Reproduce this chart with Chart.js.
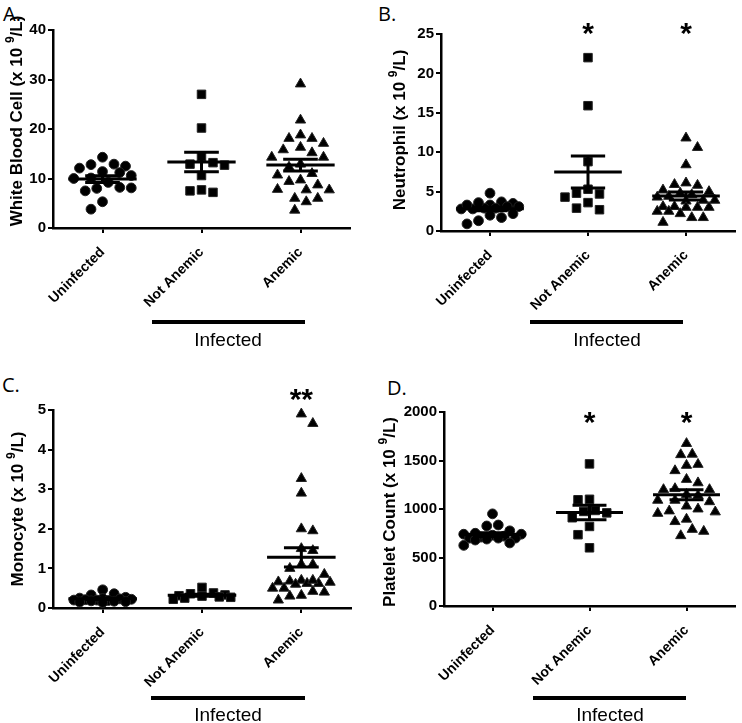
<!DOCTYPE html>
<html>
<head>
<meta charset="utf-8">
<script src="https://cdn.jsdelivr.net/npm/chart.js@4.4.1/dist/chart.umd.min.js"></script>
<style>
    body { margin: 0; background: #fff; width: 742px; height: 723px; position: relative; overflow: hidden;
           font-family: "Liberation Sans", Arial, sans-serif; }
    .panel { position: absolute; }
    .letter { position: absolute; font-family: "Open Sans", sans-serif; font-size: 20px; line-height: 20px; color: #000; }
    .infected { position: absolute; width: 160px; text-align: center; font-size: 19px; line-height: 20px; color: #000; }
    .bar { position: absolute; height: 3.5px; background: #000; }
</style>
</head>
<body>
<div class="letter" style="left:3px;top:4px;">A.</div>
<div class="letter" style="left:378px;top:4px;">B.</div>
<div class="letter" style="left:2px;top:375px;">C.</div>
<div class="letter" style="left:387px;top:378px;">D.</div>

<div class="panel" style="left:0;top:0;"><canvas id="wbcChart" width="371" height="361"></canvas></div>
<div class="panel" style="left:371px;top:0;"><canvas id="neutChart" width="371" height="361"></canvas></div>
<div class="panel" style="left:0;top:361px;"><canvas id="monoChart" width="371" height="362"></canvas></div>
<div class="panel" style="left:371px;top:361px;"><canvas id="pltChart" width="371" height="362"></canvas></div>

<div class="bar" style="left:152px;top:320px;width:153px;"></div>
<div class="infected" style="left:148px;top:330px;">Infected</div>
<div class="bar" style="left:530px;top:320px;width:153px;"></div>
<div class="infected" style="left:527px;top:330px;">Infected</div>
<div class="bar" style="left:151px;top:696px;width:154px;"></div>
<div class="infected" style="left:148px;top:705px;">Infected</div>
<div class="bar" style="left:533px;top:696px;width:153px;"></div>
<div class="infected" style="left:530px;top:705px;">Infected</div>

<script>
'use strict';

// Groups on the x axis
var groups = ['Uninfected', 'Not Anemic', 'Anemic'];

// A. White blood cells (x 10^9/L)
var wbcUninfected = [14.3, 12.5, 12.9, 12.8, 12.1, 11.4, 11.2, 10.6, 10.0, 10.1, 8.2, 8.0, 7.5, 8.1, 9.2, 5.3, 3.8];
var wbcNotAnemic = [27.0, 20.2, 14.4, 12.9, 13.2, 12.7, 10.6, 7.7, 7.2, 7.5];
var wbcAnemic = [29.1, 21.8, 18.8, 18.1, 18.1, 17.1, 16.3, 15.8, 15.2, 14.3, 14.3, 12.9, 12.3, 11.0, 10.7,
                 9.7, 9.4, 8.7, 7.7, 7.7, 7.8, 6.0, 6.0, 5.3, 3.6];

// B. Neutrophils
var neutUninfected = [4.8, 3.7, 3.5, 3.3, 3.1, 2.9, 2.8, 2.8, 2.9, 3.1, 3.3, 3.6, 2.2, 2.0, 1.7, 1.3, 0.9];
var neutNotAnemic = [22.0, 15.9, 8.8, 5.3, 4.7, 4.3, 4.8, 3.6, 2.7, 2.9];
var neutAnemic = [11.8, 10.6, 8.4, 6.1, 5.8, 5.9, 5.2, 5.0, 4.8, 4.6, 4.4, 4.3, 3.9, 3.9, 3.8, 3.1, 3.0,
                  3.0, 3.0, 3.1, 2.5, 2.5, 2.2, 1.7, 1.7, 1.1];

// C. Monocytes
var monoUninfected = [0.46, 0.36, 0.33, 0.27, 0.25, 0.24, 0.23, 0.22, 0.21, 0.2, 0.2, 0.19, 0.18, 0.17, 0.16, 0.15, 0.14];
var monoNotAnemic = [0.52, 0.38, 0.36, 0.33, 0.31, 0.3, 0.28, 0.27, 0.25, 0.22];
var monoAnemic = [4.9, 4.66, 3.27, 2.9, 1.95, 2.0, 1.5, 1.45, 1.1, 1.1, 1.0, 0.85, 0.7, 0.68, 0.65, 0.62,
                  0.6, 0.62, 0.66, 0.7, 0.5, 0.42, 0.32, 0.2, 0.3, 0.4, 0.5];

// D. Platelets
var pltUninfected = [950, 835, 825, 775, 750, 740, 740, 730, 720, 710, 700, 700, 690, 700, 650, 625, 680];
var pltNotAnemic = [1465, 1100, 1095, 985, 975, 960, 910, 820, 735, 600];
var pltAnemic = [1675, 1560, 1565, 1450, 1460, 1395, 1305, 1270, 1210, 1200, 1200, 1150, 1140, 1090, 1090,
                 1075, 1030, 1000, 980, 970, 955, 895, 870, 790, 770, 725];

// Significance marks per group
var neutStars = ['', '*', '*'];
var monoStars = ['', '', '**'];
var pltStars = ['', '*', '*'];

var markerStyles = ['circle', 'rect', 'triangle'];
var markerRadius = [4.9, 6.0, 5.9];
var fontFamily = '"Liberation Sans", Arial, sans-serif';

function mean(arr) {
    var s = 0;
    arr.forEach(function (v) { s += v; });
    return s / arr.length;
}

function sem(arr) {
    var m = mean(arr), ss = 0;
    arr.forEach(function (v) { ss += (v - m) * (v - m); });
    return Math.sqrt(ss / (arr.length - 1)) / Math.sqrt(arr.length);
}

// Spread points sideways so they don't overlap (beeswarm, pixel space)
function swarm(values, center, pxPerUnit, pxPerCat, minDist, maxHalf) {
    var order = values.map(function (v, i) { return i; })
        .sort(function (a, b) { return values[b] - values[a]; });
    var placed = [];
    var out = new Array(values.length);
    var step = minDist / 2;
    order.forEach(function (idx, n) {
        var py = values[idx] * pxPerUnit;
        var best = 0, bestScore = -1;
        for (var k = 0; k * step <= maxHalf; k++) {
            var cands = k === 0 ? [0] : (n % 2 ? [k * step, -k * step] : [-k * step, k * step]);
            for (var c = 0; c < cands.length; c++) {
                var d = Infinity;
                placed.forEach(function (p) {
                    d = Math.min(d, Math.hypot(p.px - cands[c], p.py - py));
                });
                if (d >= minDist) { best = cands[c]; bestScore = Infinity; break; }
                if (d > bestScore) { bestScore = d; best = cands[c]; }
            }
            if (bestScore === Infinity) break;
        }
        placed.push({ px: best, py: py });
        out[idx] = { x: center + best / pxPerCat, y: values[idx] };
    });
    return out;
}

// Mean line, SEM whiskers, stars and the y title
var extrasPlugin = {
    id: 'extras',
    afterDatasetsDraw: function (chart, args, opts) {
        var ctx = chart.ctx, xs = chart.scales.x, ys = chart.scales.y;
        ctx.save();
        ctx.strokeStyle = '#000';
        ctx.lineWidth = 3;
        opts.series.forEach(function (vals, i) {
            var cx = xs.getPixelForValue(i + 1);
            var catW = xs.getPixelForValue(2) - xs.getPixelForValue(1);
            var m = mean(vals), e = sem(vals);
            var yM = ys.getPixelForValue(m), yHi = ys.getPixelForValue(m + e), yLo = ys.getPixelForValue(m - e);
            ctx.beginPath();
            ctx.moveTo(cx - catW * 0.345, yM); ctx.lineTo(cx + catW * 0.345, yM);
            ctx.moveTo(cx - catW * 0.175, yHi); ctx.lineTo(cx + catW * 0.175, yHi);
            ctx.moveTo(cx - catW * 0.175, yLo); ctx.lineTo(cx + catW * 0.175, yLo);
            ctx.moveTo(cx, yHi); ctx.lineTo(cx, yLo);
            ctx.stroke();
        });
        if (opts.stars) {
            ctx.fillStyle = '#000';
            ctx.font = 'bold 30px ' + fontFamily;
            ctx.textAlign = 'center';
            ctx.textBaseline = 'middle';
            opts.stars.forEach(function (s, i) {
                if (!s) return;
                ctx.fillText(s, xs.getPixelForValue(i + 1), ys.getPixelForValue(opts.starLevel) + 7);
            });
        }
        ctx.restore();
    },
    afterDraw: function (chart, args, opts) {
        // y axis title with a superscript 9
        var ctx = chart.ctx;
        var parts = [
            { t: opts.title + ' (x 10 ', f: 'bold 17px ', dy: 0 },
            { t: '9', f: 'bold 12px ', dy: -6 },
            { t: '/L)', f: 'bold 17px ', dy: 0 }
        ];
        ctx.save();
        ctx.fillStyle = '#000';
        ctx.textBaseline = 'middle';
        ctx.textAlign = 'left';
        var total = 0;
        parts.forEach(function (p) { ctx.font = p.f + fontFamily; p.w = ctx.measureText(p.t).width; total += p.w; });
        ctx.translate(opts.titleX, opts.titleY);
        ctx.rotate(-Math.PI / 2);
        var pos = -total / 2;
        parts.forEach(function (p) {
            ctx.font = p.f + fontFamily;
            ctx.fillText(p.t, pos, p.dy);
            pos += p.w;
        });
        ctx.restore();
    }
};

function axisStyle() {
    return {
        grid: { drawOnChartArea: false, drawTicks: true, tickLength: 5, color: '#000', lineWidth: 2 },
        border: { color: '#000', width: 2.5 }
    };
}

function makePanel(canvasId, cfg) {
    var canvas = document.getElementById(canvasId);
    var W = canvas.width, H = canvas.height;
    var series = [cfg.uninfected, cfg.notAnemic, cfg.anemic];

    var datasets = series.map(function (vals, i) {
        return {
            label: groups[i],
            data: vals.map(function (v) { return { x: i + 1, y: v }; }),
            pointStyle: markerStyles[i],
            pointRadius: markerRadius[i],
            pointHoverRadius: markerRadius[i],
            backgroundColor: '#000',
            borderColor: '#222',
            borderWidth: 1,
            showLine: false,
            clip: false
        };
    });

    var xAxis = axisStyle();
    xAxis.type = 'linear';
    xAxis.min = 0.5;
    xAxis.max = 3.5;
    xAxis.afterBuildTicks = function (s) { s.ticks = [{ value: 1 }, { value: 2 }, { value: 3 }]; };
    xAxis.afterFit = function (s) { s.height = H - cfg.area.bottom; };
    xAxis.ticks = {
        autoSkip: false, minRotation: 45, maxRotation: 45, padding: 11, color: '#000',
        font: { family: fontFamily, size: 14, weight: 'bold' },
        callback: function (v) { return groups[Math.round(v) - 1]; }
    };

    var yAxis = axisStyle();
    yAxis.min = 0;
    yAxis.max = cfg.yMax;
    yAxis.afterFit = function (s) { s.width = cfg.area.left; };
    yAxis.ticks = {
        stepSize: cfg.yStep, padding: 2, color: '#000',
        font: { family: fontFamily, size: 15, weight: 'bold' },
        callback: function (v) { return String(v); }
    };

    var chart = new Chart(canvas, {
        type: 'scatter',
        data: { datasets: datasets },
        options: {
            responsive: false,
            animation: false,
            events: [],
            layout: { padding: { left: 0, top: cfg.area.top, right: W - cfg.area.right, bottom: 0 } },
            scales: { x: xAxis, y: yAxis },
            plugins: {
                legend: { display: false },
                tooltip: { enabled: false },
                extras: {
                    series: series, stars: cfg.stars, starLevel: cfg.starLevel,
                    title: cfg.yTitle, titleX: cfg.titleX, titleY: cfg.titleY
                }
            }
        },
        plugins: [extrasPlugin]
    });

    // Place the points in a swarm now that the scales are known
    var xs = chart.scales.x, ys = chart.scales.y;
    var pxPerCat = xs.getPixelForValue(2) - xs.getPixelForValue(1);
    var pxPerUnit = Math.abs(ys.getPixelForValue(cfg.yMax) - ys.getPixelForValue(0)) / cfg.yMax;
    series.forEach(function (vals, i) {
        chart.data.datasets[i].data = swarm(vals, i + 1, pxPerUnit, pxPerCat, 11.5, 34);
    });
    chart.update('none');
    return chart;
}

makePanel('wbcChart', {
    uninfected: wbcUninfected, notAnemic: wbcNotAnemic, anemic: wbcAnemic,
    yMax: 40, yStep: 10, yTitle: 'White Blood Cell',
    area: { left: 53, right: 350, top: 30, bottom: 228 },
    titleX: 17, titleY: 121
});

makePanel('neutChart', {
    uninfected: neutUninfected, notAnemic: neutNotAnemic, anemic: neutAnemic,
    yMax: 25, yStep: 5, yTitle: 'Neutrophil',
    area: { left: 70, right: 368, top: 34, bottom: 231 },
    titleX: 29, titleY: 130,
    stars: neutStars, starLevel: 25.8
});

makePanel('monoChart', {
    uninfected: monoUninfected, notAnemic: monoNotAnemic, anemic: monoAnemic,
    yMax: 5, yStep: 1, yTitle: 'Monocyte',
    area: { left: 53, right: 351, top: 49, bottom: 247 },
    titleX: 18, titleY: 148,
    stars: monoStars, starLevel: 5.4
});

makePanel('pltChart', {
    uninfected: pltUninfected, notAnemic: pltNotAnemic, anemic: pltAnemic,
    yMax: 2000, yStep: 500, yTitle: 'Platelet Count',
    area: { left: 73, right: 369, top: 51, bottom: 245 },
    titleX: 19, titleY: 151,
    stars: pltStars, starLevel: 1950
});
</script>
</body>
</html>
